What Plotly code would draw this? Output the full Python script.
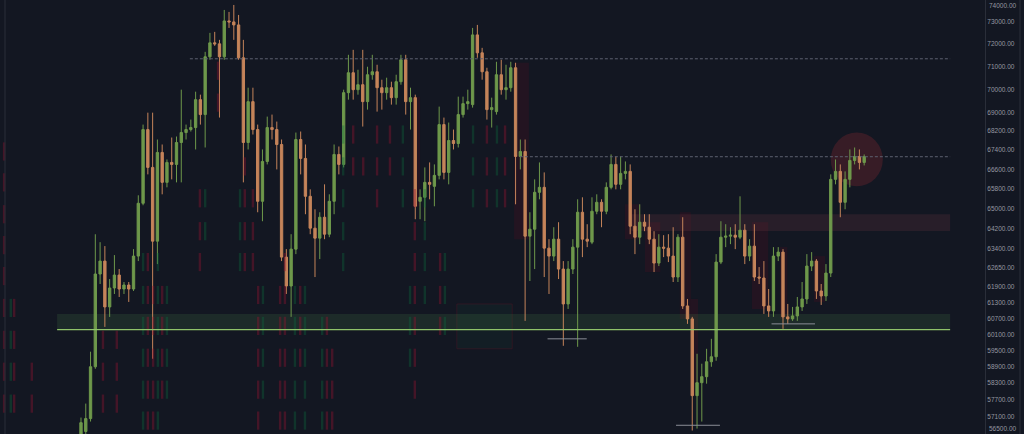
import plotly.graph_objects as go
import math

# ---------------- data ----------------
open_ = [
    55970, 56570, 57025, 58895, 62395, 62900, 61130, 61855, 62355, 61816,
    61970, 61816, 63096, 65205, 68268, 66678, 63685, 67302, 66060, 66885,
    66802, 67720, 68141, 68268, 68353, 69551, 68907, 71432, 72055, 72010,
    71432, 73045, 73000, 72864, 71387, 67720, 69465, 68268, 65286, 66926,
    68353, 68268, 67636, 63056, 61932, 63370, 67846, 67051, 65489, 64201,
    63804, 64641, 63962, 65286, 67218, 66802, 69854, 70727, 69984, 70202,
    69465, 70639, 70770, 70071, 69854, 70071, 69637, 70333, 71299, 69465,
    69637, 65286, 65448, 66060, 65897, 66348, 68480, 66471, 67804, 67678,
    68907, 69379, 69336, 72413, 71609, 70770, 69121, 69035, 70639, 69984,
    70071, 70946, 67134, 67343, 63883, 64161, 65652, 65856, 63409, 63096,
    63764, 62588, 61244, 62588, 63449, 64842, 63764, 63646, 64882, 65245,
    64882, 65856, 66802, 65979, 66430, 66513, 64281, 63843, 64441, 64241,
    63764, 62822, 63449, 63409, 63096, 62278, 63843, 61168, 60676, 57845,
    58314, 58532, 59079, 59263, 62861, 63843, 63883, 63923, 63843, 64121,
    63096, 63488, 62278, 62240, 61168, 60978, 63096, 63252, 60752, 60676,
    60789, 61130, 61434, 62705, 62900, 61740, 61548, 62433, 66183, 66513,
    65245, 66183, 66968, 67134, 66885]

high = [
    57060, 57560, 59450, 63960, 63645, 63490, 62200, 63135, 62590, 62085,
    62085, 63370, 65530, 68480, 68990, 68990, 67846, 67636, 67009, 67930,
    67973, 69984, 68480, 68693, 69897, 69767, 71653, 72503, 72548, 72189,
    73546, 73455, 73775, 73318, 72189, 70071, 70071, 68480, 67427, 68821,
    68907, 68608, 67846, 63370, 63962, 68141, 68184, 67636, 65774, 64962,
    64842, 65979, 65570, 67636, 67552, 69984, 71520, 71742, 70858, 71742,
    70991, 71520, 71079, 70420, 70508, 70333, 70639, 71520, 71520, 70071,
    69767, 65774, 66678, 66885, 66802, 69250, 68779, 68566, 68268, 69681,
    69681, 69984, 72728, 72864, 71831, 70946, 69637, 71211, 71299, 71079,
    71211, 71167, 67846, 67846, 64842, 66183, 66885, 66471, 63764, 64241,
    64441, 62900, 62900, 63764, 65367, 65448, 64361, 65448, 65570, 65367,
    66060, 67218, 67134, 67134, 66926, 66802, 64962, 65164, 64762, 64762,
    64082, 63962, 63923, 63962, 64241, 63962, 64641, 61434, 60752, 59373,
    59006, 59557, 59928, 63174, 64481, 64361, 64241, 64361, 65489, 64361,
    63764, 64361, 62666, 62900, 61816, 63449, 63449, 63370, 61244, 61130,
    61510, 62085, 63174, 63252, 62978, 62009, 62783, 66389, 67009, 66802,
    66513, 67427, 67510, 67427, 67218]

low = [
    55800, 56460, 56920, 58820, 62010, 60375, 60750, 61625, 61510, 61625,
    61320, 61740, 62900, 65125, 66390, 59190, 62783, 65570, 65856, 66183,
    66060, 66060, 67846, 68184, 67427, 68480, 67510, 71299, 71921, 68780,
    71299, 72728, 72189, 71299, 66060, 67427, 68057, 64842, 64481, 66802,
    67846, 66595, 62900, 61625, 60752, 63174, 66389, 64762, 63962, 62278,
    62978, 63764, 63843, 64762, 66389, 66678, 69551, 69551, 69767, 68396,
    69121, 70420, 69035, 69121, 69551, 69336, 69336, 70202, 68907, 68268,
    64561, 64561, 64481, 65367, 65083, 66183, 66183, 65979, 67427, 67510,
    68779, 69121, 69207, 71387, 70420, 68693, 68353, 68907, 69767, 69551,
    69897, 65164, 66595, 60601, 62124, 62588, 65367, 62278, 61625, 62900,
    62201, 59668, 61054, 62395, 59631, 63056, 63449, 63567, 64762, 64241,
    64762, 65774, 65774, 65774, 66183, 63962, 63174, 63567, 64082, 63567,
    62472, 62705, 63056, 62861, 62085, 62085, 61054, 60489, 56602, 56672,
    56919, 58278, 58895, 59116, 62783, 63449, 63567, 63370, 63764, 62783,
    62900, 62124, 62009, 60865, 60752, 60752, 62900, 60301, 60489, 60601,
    60601, 60978, 61244, 62511, 61434, 61206, 61358, 62278, 65979, 64641,
    64962, 65856, 66802, 66595, 66760]

close = [
    56880, 57025, 58895, 62395, 62900, 61130, 61855, 62355, 61816, 61970,
    61816, 63096, 65205, 68268, 66678, 63685, 67302, 66060, 66885, 66802,
    67720, 68141, 68268, 68353, 69551, 68907, 71432, 72055, 72010, 71432,
    73045, 73000, 72864, 71387, 67720, 69465, 68268, 65286, 66926, 68353,
    68268, 67636, 63056, 61932, 63370, 67846, 67051, 65489, 64201, 63804,
    64641, 63962, 65286, 67218, 66802, 69854, 70727, 69984, 70202, 69465,
    70639, 70770, 70071, 69854, 70071, 69637, 70333, 71299, 69465, 69637,
    65083, 65448, 66060, 65979, 66348, 68480, 66471, 67804, 67678, 68907,
    69379, 69465, 72413, 71609, 70770, 69121, 69207, 70639, 69984, 70071,
    70946, 67134, 67343, 63883, 64161, 65652, 65856, 63409, 63096, 63764,
    62588, 61244, 62588, 63449, 64842, 63764, 63685, 64882, 65245, 64882,
    65856, 66802, 65979, 66430, 66513, 64281, 63843, 64441, 64281, 63764,
    62822, 63449, 63409, 63096, 62278, 63843, 61168, 60676, 57845, 58314,
    58532, 59079, 59263, 62861, 63843, 63883, 63923, 63843, 64121, 63096,
    63488, 62278, 62240, 61168, 60978, 63096, 63252, 60752, 60676, 60789,
    61130, 61434, 62705, 62900, 61740, 61548, 62433, 66183, 66513, 65245,
    66183, 66968, 67134, 66885, 67122.99]

candle_idx = list(range(len(open_)))

tick_vals = [73000, 72000, 71000, 70000, 69000, 68200, 67400, 66600,
             65800, 65000, 64200, 63400, 62650, 61900, 61300, 60700, 60100,
             59500, 58900, 58300, 57700, 57100]
tick_text = ["%.2f" % v for v in tick_vals]
edge_ticks = [74000, 56500]          # labels at the window edges

last_price = 67122.99
countdown = "05:48:13"
resistance_level = 71343
support_zone = [60275, 60865]
supply_zone = [64093, 64762]

# faint background "ghost" dashes: two row grids (price levels) and columns
ghost_grid_a = [72234, 70814, 69422, 68057, 66719, 65408, 64082, 62861,
                61587, 60413, 59226, 58061, 56954]
ghost_grid_b = [67343, 66060, 64762, 63528, 62317, 61092, 59891, 58713, 57558]
# (candle position, grid, first row, last row, colour)
ghost_cols = [
    (-16.1, "b", 0, 8, "r"), (-14.7, "b", 5, 8, "g"), (-14.0, "b", 5, 8, "r"),
    (-10.3, "b", 7, 8, "r"), (4.6, "b", 6, 8, "r"), (7.5, "b", 6, 8, "r"),
    (13.0, "a", 7, 12, "g"), (14.0, "a", 7, 12, "r"), (15.1, "a", 8, 12, "r"),
    (16.1, "a", 7, 12, "g"), (17.0, "a", 8, 11, "r"), (18.0, "a", 8, 11, "g"),
    (24.9, "a", 5, 7, "r"), (26.0, "a", 5, 6, "g"), (28.7, "a", 1, 2, "r"),
    (33.3, "a", 5, 7, "g"), (34.3, "a", 4, 7, "r"), (36.0, "a", 5, 7, "r"),
    (37.1, "a", 8, 12, "r"), (38.1, "a", 8, 11, "g"),
    (41.7, "a", 8, 12, "r"), (42.7, "a", 7, 12, "r"), (44.8, "a", 8, 12, "g"),
    (45.9, "a", 8, 10, "r"), (46.9, "a", 8, 12, "g"),
    (50.5, "a", 9, 12, "g"), (51.5, "a", 9, 12, "r"), (52.6, "a", 10, 12, "r"),
    (54.9, "a", 3, 7, "g"), (57.0, "a", 3, 4, "r"), (59.1, "a", 4, 4, "r"),
    (62.0, "a", 3, 5, "r"), (64.7, "a", 3, 4, "r"), (67.4, "a", 3, 5, "g"),
    (68.9, "a", 8, 10, "g"), (69.9, "a", 5, 11, "r"),
    (72.0, "a", 5, 8, "g"), (75.2, "a", 7, 9, "r"), (76.2, "a", 7, 9, "g"),
    (82.1, "a", 3, 5, "g"), (85.0, "a", 3, 5, "r"), (87.1, "a", 3, 5, "g"),
    (88.8, "a", 3, 5, "r"),
]
# dark red glow boxes behind some candles: (x0, x1, price top, price bottom)
glow_boxes = [
    (113.9, 117.1, 65164, 63764), (118.1, 121.3, 64441, 62472),
    (125.4, 127.7, 64842, 60676), (127.7, 129.2, 61434, 57845),
    (140.5, 143.9, 64441, 61054), (146.4, 147.9, 63449, 60676),
    (153.5, 155.8, 63096, 61320), (90.7, 93.8, 71167, 63764),
    (69.5, 71.0, 69681, 65083),
]

# ---------------- style ----------------
BG = "#131722"
GREEN = "#6e984b"
ORANGE = "#c5845a"
AXIS = "#2a2e39"
TXT = "#9598a1"
GHOST = {"r": "rgba(150,18,48,0.38)", "g": "rgba(10,105,62,0.36)"}

fig = go.Figure()

gx, gy, gc = [], [], []
for pos, grid, r0, r1, col in ghost_cols:
    levels = ghost_grid_a if grid == "a" else ghost_grid_b
    for lv in levels[r0:r1 + 1]:
        gx.append(pos)
        gy.append(lv)
        gc.append(GHOST[col])
fig.add_trace(go.Scatter(
    x=gx, y=gy, mode="markers", hoverinfo="skip", showlegend=False,
    marker=dict(symbol="line-ns", size=13, line=dict(width=2.4, color=gc)),
))

fig.add_trace(go.Candlestick(
    x=candle_idx, open=open_, high=high, low=low, close=close,
    increasing=dict(line=dict(color=GREEN, width=1), fillcolor=GREEN),
    decreasing=dict(line=dict(color=ORANGE, width=1), fillcolor=ORANGE),
    whiskerwidth=0, hoverinfo="skip", showlegend=False,
))

shapes = []
for x0, x1, ya, yb in glow_boxes:
    shapes.append(dict(type="rect", xref="x", yref="y", x0=x0, x1=x1, y0=yb, y1=ya,
                       fillcolor="rgba(110,12,35,0.18)", line=dict(width=0), layer="below"))
# box with green fill and red edge near the support zone
shapes.append(dict(type="rect", xref="x", yref="y", x0=78.7, x1=90.3, y0=59557, y1=61244,
                   fillcolor="rgba(20,80,55,0.14)", line=dict(color="rgba(110,20,40,0.30)", width=1),
                   layer="below"))
# support zone (green band) + line
shapes.append(dict(type="rect", xref="x", yref="y", x0=-5.0, x1=182.0,
                   y0=support_zone[0], y1=support_zone[1],
                   fillcolor="rgba(70,120,70,0.22)", line=dict(width=0), layer="below"))
shapes.append(dict(type="line", xref="x", yref="y", x0=-5.0, x1=182.0,
                   y0=support_zone[0], y1=support_zone[0],
                   line=dict(color="#8fc46a", width=1.2)))
# supply zone (red band)
shapes.append(dict(type="rect", xref="x", yref="y", x0=115.3, x1=182.0,
                   y0=supply_zone[0], y1=supply_zone[1],
                   fillcolor="rgba(120,60,70,0.22)", line=dict(width=0), layer="below"))
# dashed levels
shapes.append(dict(type="line", xref="x", yref="y", x0=22.8, x1=182.0,
                   y0=resistance_level, y1=resistance_level,
                   line=dict(color="#5d6170", width=1, dash="3px,2px")))
shapes.append(dict(type="line", xref="x", yref="y", x0=91.9, x1=182.0,
                   y0=last_price, y1=last_price,
                   line=dict(color="#5d6170", width=1, dash="3px,2px")))
# red circle highlight
shapes.append(dict(type="circle", xref="x", yref="y", x0=157.0, x1=167.9,
                   y0=65897, y1=68141,
                   fillcolor="rgba(140,40,50,0.30)", line=dict(width=0), layer="below"))
# small horizontal marker lines
for xa, xb, yv in [(97.7, 105.9, 59928), (144.6, 153.7, 60489), (124.6, 133.8, 56788)]:
    shapes.append(dict(type="line", xref="x", yref="y", x0=xa, x1=xb, y0=yv, y1=yv,
                       line=dict(color="#8a8d96", width=1)))
# frame lines
shapes.append(dict(type="line", xref="paper", yref="paper", x0=5/985, x1=5/985, y0=0, y1=1,
                   line=dict(color=AXIS, width=1)))
shapes.append(dict(type="line", xref="paper", yref="paper", x0=1020/985, x1=1020/985, y0=0, y1=1,
                   line=dict(color=AXIS, width=1)))

annotations = [dict(xref="paper", yref="y", x=1 + 1/985, y=last_price,
                    xanchor="left", yanchor="middle", yshift=-4,
                    text="<b>%.2f</b><br>%s" % (last_price, countdown),
                    showarrow=False, bgcolor="#4d8a3c", borderpad=1,
                    font=dict(size=6.5, color="#e4f3dc"), align="center")]
ylo, yhi = math.log10(56480), math.log10(74003)
# edge labels kept fully inside the window
annotations.append(dict(xref="paper", yref="paper", x=1 + 2/985, y=1.0,
                        xanchor="left", yanchor="top", text="%.2f" % edge_ticks[0],
                        showarrow=False, font=dict(size=6.5, color=TXT)))
annotations.append(dict(xref="paper", yref="paper", x=1 + 2/985, y=0.0,
                        xanchor="left", yanchor="bottom", text="%.2f" % edge_ticks[1],
                        showarrow=False, font=dict(size=6.5, color=TXT)))

fig.update_layout(
    width=1024, height=434, autosize=False,
    margin=dict(l=0, r=39, t=0, b=0, pad=0, autoexpand=False),
    paper_bgcolor=BG, plot_bgcolor=BG,
    shapes=shapes, annotations=annotations,
    showlegend=False,
    font=dict(family="Liberation Sans, Arial, sans-serif", color=TXT),
    xaxis=dict(range=[-16.96, 189.3], showgrid=False, zeroline=False,
               showticklabels=False, ticks="", rangeslider=dict(visible=False),
               fixedrange=True, automargin=False),
    yaxis=dict(type="log", range=[ylo, yhi],
               side="right", tickvals=tick_vals, ticktext=tick_text,
               tickfont=dict(size=6.5, color=TXT), showgrid=False, zeroline=False,
               ticks="", showline=True, linecolor=AXIS, linewidth=1,
               fixedrange=True, automargin=False),
)

fig.write_html(
    "out.html",
    config={"displayModeBar": False, "staticPlot": True},
    post_script="document.body.style.margin='0';document.body.style.background='#131722';",
)
